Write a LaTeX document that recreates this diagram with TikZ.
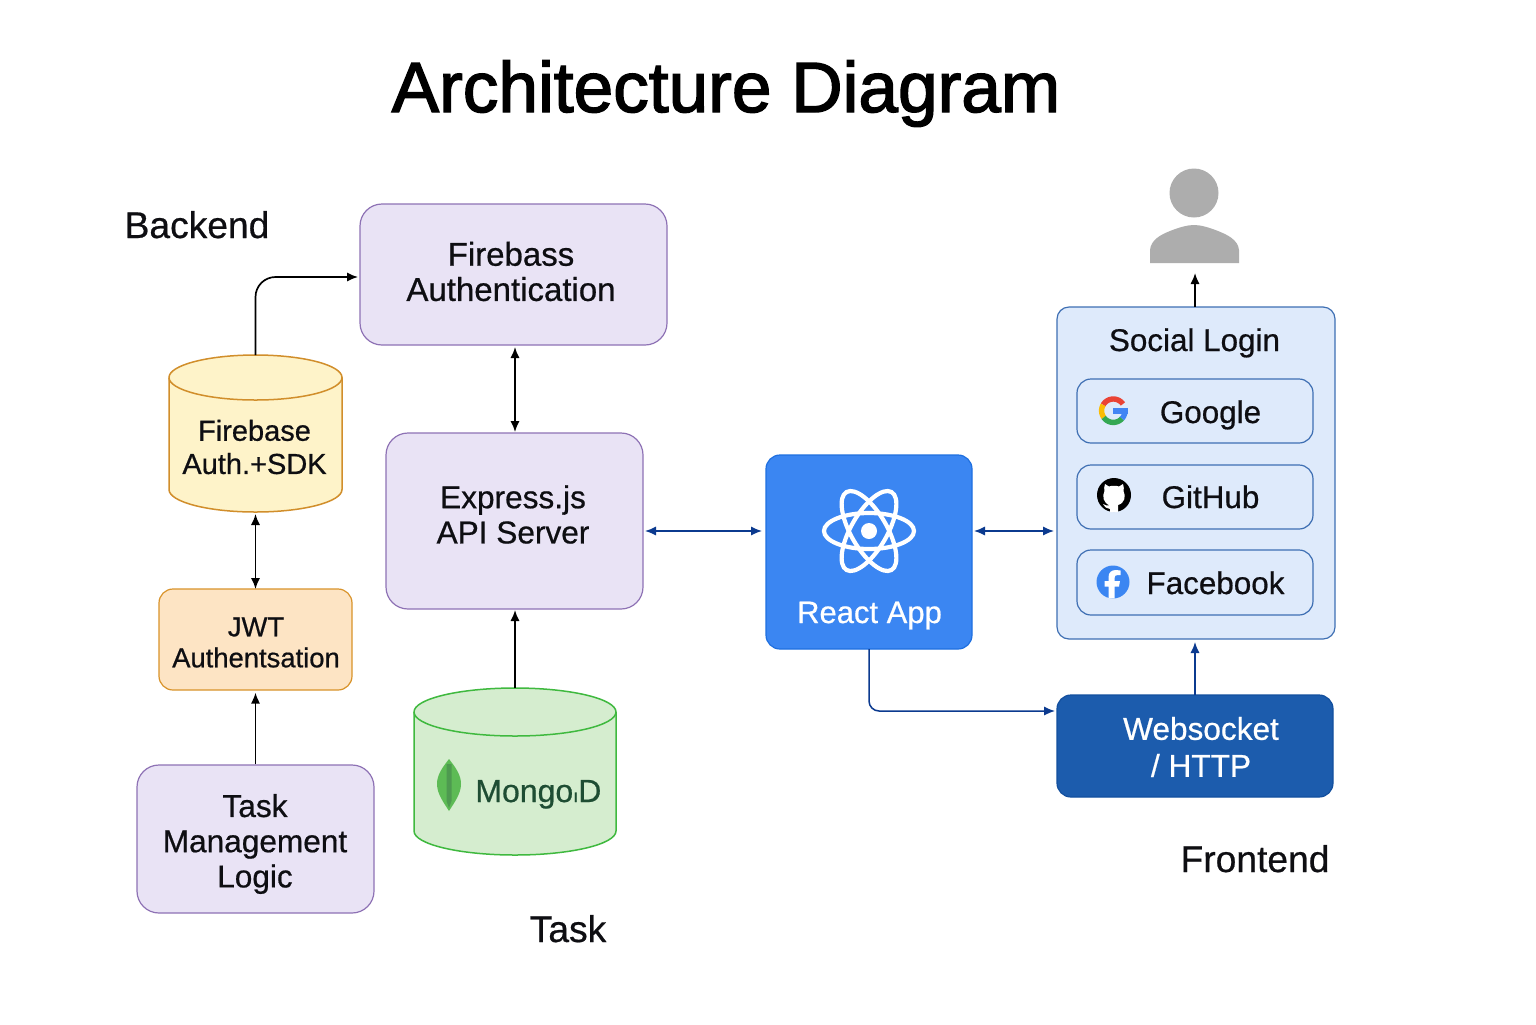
\documentclass[tikz,border=0pt]{standalone}
\usepackage{fontspec}
\setmainfont{Liberation Sans}
\newfontfamily\medfont[FakeBold=0.6]{Liberation Sans}
\newfontfamily\titlefont[FakeBold=2]{Liberation Sans}
\usetikzlibrary{arrows.meta,calc}
\definecolor{txt}{HTML}{0E0E12}
\definecolor{lav}{HTML}{E9E3F5}
\definecolor{lavb}{HTML}{8E72B5}
\definecolor{org}{HTML}{FDE4C4}
\definecolor{orgb}{HTML}{D9932A}
\definecolor{yel}{HTML}{FEF3C9}
\definecolor{yelb}{HTML}{D18E2B}
\definecolor{grn}{HTML}{D5EDCF}
\definecolor{grnb}{HTML}{3FB93F}
\definecolor{mgtx}{HTML}{1E4D33}
\definecolor{leaf}{HTML}{5DBB55}
\definecolor{leafd}{HTML}{4E9A50}
\definecolor{rct}{HTML}{3B86F2}
\definecolor{rctb}{HTML}{1E6FE0}
\definecolor{soc}{HTML}{DEEAFB}
\definecolor{socb}{HTML}{3E6FB3}
\definecolor{wsk}{HTML}{1C5CAD}
\definecolor{wskb}{HTML}{124F9E}
\definecolor{lnk}{HTML}{0B3A8F}
\definecolor{usr}{HTML}{ADADAD}
\tikzset{
  box/.style={draw,line width=0.6pt,inner sep=0pt},
  purplebox/.style={box,fill=lav,draw=lavb,rounded corners=11pt},
  orangebox/.style={box,fill=org,draw=orgb,rounded corners=7pt},
  reactbox/.style={box,fill=rct,draw=rctb,rounded corners=7pt},
  socialbox/.style={box,fill=soc,draw=socb,rounded corners=6pt},
  itembox/.style={box,fill=soc,draw=socb,rounded corners=7pt},
  wsbox/.style={box,fill=wsk,draw=wskb,rounded corners=7pt},
  ghost/.style={inner sep=0pt,outer sep=0pt},
  lbl/.style={inner sep=0pt,text=txt,align=center,font=\medfont\fontsize{15.8}{17.6}\selectfont},
  big/.style={inner sep=0pt,text=txt,font=\medfont\fontsize{18.6}{20}\selectfont,anchor=base},
  blk/.style={draw=black,line width=0.85pt,-{Latex[length=5.5pt,width=4.6pt]},shorten >=1pt},
  blkb/.style={draw=black,line width=0.85pt,{Latex[length=5.5pt,width=4.6pt]}-{Latex[length=5.5pt,width=4.6pt]},shorten >=1pt,shorten <=1pt},
  blu/.style={draw=lnk,line width=0.75pt,-{Latex[length=5.5pt,width=4.6pt]},shorten >=1pt},
  blub/.style={draw=lnk,line width=0.75pt,{Latex[length=5.5pt,width=4.6pt]}-{Latex[length=5.5pt,width=4.6pt]},shorten >=1pt,shorten <=1pt},
}
% name, cx, top, bottom, rx, ry, fill, border
\newcommand\cyldraw[8]{%
  \filldraw[fill=#7,draw=#8,line width=0.75pt]
    ({#2-#5},{#3+#6}) -- ({#2-#5},{#4-#6})
    .. controls ({#2-#5},{#4-.45*#6}) and ({#2-.55*#5},{#4}) .. ({#2},{#4})
    .. controls ({#2+.55*#5},{#4}) and ({#2+#5},{#4-.45*#6}) .. ({#2+#5},{#4-#6})
    -- ({#2+#5},{#3+#6})
    .. controls ({#2+#5},{#3+.45*#6}) and ({#2+.55*#5},{#3}) .. ({#2},{#3})
    .. controls ({#2-.55*#5},{#3}) and ({#2-#5},{#3+.45*#6}) .. ({#2-#5},{#3+#6}) -- cycle;
  \draw[draw=#8,line width=0.75pt]
    ({#2-#5},{#3+#6})
    .. controls ({#2-#5},{#3+1.55*#6}) and ({#2-.55*#5},{#3+2*#6}) .. ({#2},{#3+2*#6})
    .. controls ({#2+.55*#5},{#3+2*#6}) and ({#2+#5},{#3+1.55*#6}) .. ({#2+#5},{#3+#6});
  \node[ghost,minimum width={2*#5*0.5pt},minimum height={(#4-#3)*0.5pt}] (#1) at ({#2},{(#3+#4)/2}) {};
}
\begin{document}
\begin{tikzpicture}[x=0.5pt,y=-0.5pt]
\useasboundingbox[fill=white] (0,0) rectangle (1536,1024);

% title and headings
\node[inner sep=0pt,text=black,anchor=base,font=\titlefont\fontsize{35.6}{38}\selectfont] (title) at (726,112) {Architecture Diagram};
\node[big] (backend) at (197,238) {Backend};
\node[big] (frontend) at (1255,872) {Frontend};
\node[big] (tasklbl) at (568,942) {Task};

% left cylinder and boxes
\cyldraw{fbdb}{255.5}{355}{512}{86.5}{22.5}{yel}{yelb}
\node[lbl,font=\medfont\fontsize{14.5}{16.6}\selectfont] (fbdbt) at (254.5,447) {Firebase\\Auth.+SDK};
\node[orangebox,minimum width=96.5pt,minimum height=50.5pt] (jwt) at (255.5,639.5) {};
\node[lbl,font=\medfont\fontsize{13.7}{15.5}\selectfont] (jwtt) at (256,642.5) {JWT\\Authentsation};
\node[purplebox,minimum width=118.5pt,minimum height=74pt] (tm) at (255.5,839) {};
\node[lbl] (tmt) at (255,844) {Task\\Management\\Logic};

% centre
\node[purplebox,minimum width=153.5pt,minimum height=70.5pt] (fa) at (513.5,274.5) {};
\node[lbl,font=\medfont\fontsize{16.5}{17.6}\selectfont] (fat) at (511,271.5) {Firebass\\Authentication};
\node[purplebox,minimum width=128.5pt,minimum height=88pt] (ex) at (514.5,521) {};
\node[lbl] (ext) at (513,514.5) {Express.js\\API Server};
\cyldraw{mg}{515}{688}{855}{101}{24}{grn}{grnb}
\fill[leaf] (449,759) .. controls (442,768) and (437,775) .. (437,784)
  .. controls (437,794) and (444,803) .. (449,811) .. controls (454,803) and (461,794) .. (461,784)
  .. controls (461,775) and (456,768) .. (449,759) -- cycle;
\fill[leafd] (446.5,764) -- (451.5,764) -- (451.5,801) -- (449,808) -- (446.5,801) -- cycle;
\node[inner sep=0pt,text=mgtx,anchor=base west,font=\medfont\fontsize{16}{18}\selectfont] (mgt) at (475,802) {Mongo{\fontsize{9}{9}\selectfont ı}D};

% react
\node[reactbox,minimum width=103pt,minimum height=97pt] (re) at (869,552) {};
\begin{scope}[shift={(869,531)}]
  \draw[white,line width=2.1pt] (0,0) ellipse [x radius=45,y radius=18];
  \draw[white,line width=2.1pt,rotate=60] (0,0) ellipse [x radius=45,y radius=18];
  \draw[white,line width=2.1pt,rotate=120] (0,0) ellipse [x radius=45,y radius=18];
  \fill[white] (0,0) circle [radius=8];
\end{scope}
\node[inner sep=0pt,text=white,anchor=base,font=\medfont\fontsize{15.5}{17}\selectfont] (ret) at (869.5,623) {React App};

% user
\fill[usr] (1194,193) circle [radius=24.5];
\fill[usr] (1150,263) -- (1150,250) .. controls (1151,240) and (1160,235) .. (1170,231)
  .. controls (1180,227) and (1188,225) .. (1194,225)
  .. controls (1200,225) and (1208,227) .. (1218,231)
  .. controls (1228,235) and (1238,240) .. (1239,250) -- (1239,263) -- cycle;
\coordinate (user) at (1195,271);

% social login
\node[socialbox,minimum width=139pt,minimum height=166pt] (so) at (1196,473) {};
\node[inner sep=0pt,text=txt,anchor=base,font=\medfont\fontsize{15.7}{17}\selectfont] (sot) at (1194.5,351) {Social Login};
\node[itembox,minimum width=118pt,minimum height=32pt] (go) at (1195,411) {};
\node[itembox,minimum width=118pt,minimum height=32pt] (gh) at (1195,497) {};
\node[itembox,minimum width=118pt,minimum height=32.5pt] (fb) at (1195,582.5) {};
\node[inner sep=0pt,text=txt,anchor=base,font=\medfont\fontsize{15.7}{17}\selectfont] (got) at (1210.5,423) {Google};
\node[inner sep=0pt,text=txt,anchor=base,font=\medfont\fontsize{15.7}{17}\selectfont] (ght) at (1210.5,508) {GitHub};
\node[inner sep=0pt,text=txt,anchor=base,font=\medfont\fontsize{15.7}{17}\selectfont] (fbt) at (1215.5,594) {Facebook};

% google icon
\def\gx{1113.3}\def\gy{410.7}
\draw[line width=2.7pt,color={rgb,255:red,234;green,67;blue,53}] plot[domain=35:150,samples=20] ({\gx+11.7*cos(\x)},{\gy-11.7*sin(\x)});
\draw[line width=2.7pt,color={rgb,255:red,251;green,188;blue,5}] plot[domain=150:215,samples=12] ({\gx+11.7*cos(\x)},{\gy-11.7*sin(\x)});
\draw[line width=2.7pt,color={rgb,255:red,52;green,168;blue,83}] plot[domain=215:318,samples=20] ({\gx+11.7*cos(\x)},{\gy-11.7*sin(\x)});
\draw[line width=2.7pt,color={rgb,255:red,66;green,133;blue,244}] plot[domain=318:362,samples=10] ({\gx+11.7*cos(\x)},{\gy-11.7*sin(\x)});
\fill[color={rgb,255:red,66;green,133;blue,244}] (\gx,{\gy-2.5}) rectangle ({\gx+14.4},{\gy+3});

% github icon
\fill[black] (1114,495) circle [radius=17];
\fill[white] (1105,484) -- (1109,486.5) .. controls (1112,485.5) and (1116,485.5) .. (1119,486.5) -- (1123,484)
  .. controls (1124,487) and (1124,489) .. (1123.5,491) .. controls (1126,496) and (1125,503) .. (1118,505)
  -- (1118,512) -- (1110,512) -- (1110,509) .. controls (1107,509) and (1105,507) .. (1103,504)
  .. controls (1105,505) and (1107,506) .. (1110,505.5) .. controls (1103,503) and (1102,496) .. (1104.5,491)
  .. controls (1104,489) and (1104,487) .. (1105,484) -- cycle;

% facebook icon
\fill[rct] (1113,582) circle [radius=16.5];
\fill[white] (1108.5,598.4) -- (1108.5,586.5) -- (1104.5,586.5) -- (1104.5,581) -- (1108.5,581) -- (1108.5,577)
  .. controls (1108.5,572) and (1112,570) .. (1116,570) -- (1120.5,570.5) -- (1120.5,575) -- (1117.5,575)
  .. controls (1115.5,575) and (1114.5,576) .. (1114.5,578) -- (1114.5,581) -- (1120,581) -- (1119,586.5)
  -- (1114.5,586.5) -- (1114.5,598.4) -- cycle;

% websocket
\node[wsbox,minimum width=138pt,minimum height=51pt] (ws) at (1195,746) {};
\node[inner sep=0pt,text=white,align=center,font=\medfont\fontsize{15.8}{18.5}\selectfont] (wst) at (1201,747) {Websocket\\/ HTTP};

% connector ports
\coordinate (faW) at (360,277);
\coordinate (exR) at (643,531);
\coordinate (reL) at (764,531);
\coordinate (reR) at (972,531);
\coordinate (soL) at (1056,531);
\coordinate (soT) at (1195,307);
\coordinate (soB) at (1195,640);
\coordinate (wsT) at (1195,695);
\coordinate (wsL) at (1057,711);
\coordinate (reB) at (869,649);
\coordinate (faS) at (515,345);
\coordinate (exN) at (515,434);
\coordinate (exS) at (515,608);
\coordinate (jwN) at (255.5,591);

% connectors
\draw[blk,rounded corners=10pt] (fbdb.north) |- (faW);
\draw[blkb] (faS) -- (exN);
\draw[blk] (mg.north -| exS) -- (exS);
\draw[blkb] (fbdb.south) -- (jwN);
\draw[blk] (tm.north) -- (jwt.south);
\draw[blub] (exR) -- (reL);
\draw[blub] (reR) -- (soL);
\draw[blk] (soT) -- (user);
\draw[blu] (wsT) -- (soB);
\draw[blu,rounded corners=5pt] (reB) |- (wsL);
\end{tikzpicture}
\end{document}
